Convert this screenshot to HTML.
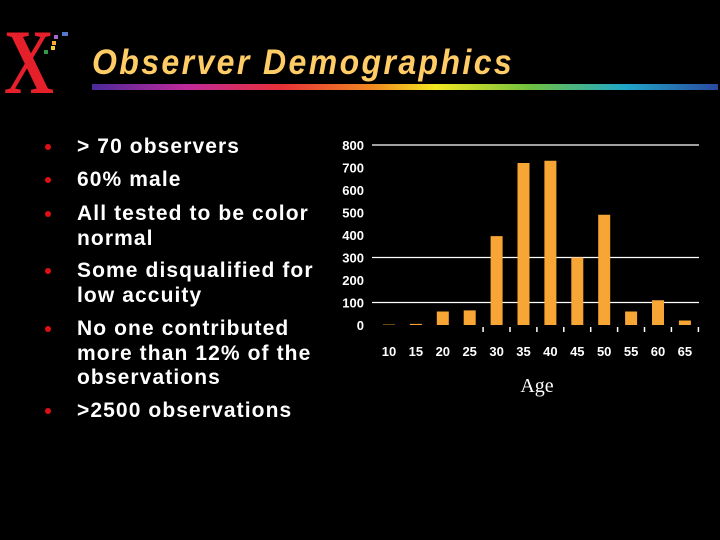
<!DOCTYPE html>
<html><head><meta charset="utf-8"><style>
body{margin:0;background:#000;width:720px;height:540px;overflow:hidden;position:relative;font-family:"Liberation Sans",sans-serif}
.t{position:absolute;color:#fff;font-weight:bold;font-size:21px;letter-spacing:1.1px;left:77px;line-height:24.5px;white-space:nowrap}
.b{position:absolute;left:45px;width:6px;height:6px;border-radius:50%;background:#e01010}
</style></head><body>
<div style="position:absolute;left:4px;top:16px;font-family:'Liberation Serif',serif;font-weight:bold;font-size:92px;line-height:92px;color:#e5202a;transform:scaleX(0.75);transform-origin:0 0">X</div>
<svg style="position:absolute;left:0;top:0" width="80" height="100">
<rect x="62" y="32" width="6" height="4" fill="#5577cc"/><rect x="54" y="35" width="4" height="4" fill="#aa66cc"/>
<rect x="52" y="41" width="4" height="4" fill="#ffaa33"/><rect x="51" y="46" width="4" height="4" fill="#eecc33"/><rect x="44" y="50" width="4" height="4" fill="#339944"/>
</svg>
<div style="position:absolute;left:92px;top:42px;font-size:32px;letter-spacing:2.4px;font-weight:bold;font-style:italic;color:#ffcc66;transform:scaleY(1.1);transform-origin:0 0">Observer Demographics</div>
<div style="position:absolute;left:92px;top:84px;width:626px;height:6px;background:linear-gradient(90deg,#4a2a9a,#c02a9a 15%,#e8303a 30%,#f08a20 45%,#f4e820 55%,#70c040 70%,#20a8c8 85%,#2a4aa0)"></div>
<div>
<div class="b" style="top:144px"></div><div class="t" style="top:135px">&gt; 70 observers</div>
<div class="b" style="top:177px"></div><div class="t" style="top:168px">60% male</div>
<div class="b" style="top:211px"></div><div class="t" style="top:202px">All tested to be color<br>normal</div>
<div class="b" style="top:268px"></div><div class="t" style="top:259px">Some disqualified for<br>low accuity</div>
<div class="b" style="top:326px"></div><div class="t" style="top:317px">No one contributed<br>more than 12% of the<br>observations</div>
<div class="b" style="top:408px"></div><div class="t" style="top:399px">&gt;2500 observations</div>
</div>
<svg id="chart" style="position:absolute;left:0;top:0" width="720" height="540"></svg>
<script>
const categories=["10","15","20","25","30","35","40","45","50","55","60","65"];
const values=[2,5,60,65,395,720,730,300,490,60,110,20];
const yTicks=[0,100,200,300,400,500,600,700,800];
const gridLines=[100,300,800];
const svg=document.getElementById('chart');const NS='http://www.w3.org/2000/svg';
const y=v=>325-v*0.225;const x=i=>389+i*26.9;
function mk(t,a){const e=document.createElementNS(NS,t);for(const k in a)e.setAttribute(k,a[k]);svg.appendChild(e);return e;}
gridLines.forEach(v=>{const l=mk('line',{x1:372,x2:699,y1:y(v),y2:y(v),stroke:'#fff','stroke-width':1.3});

});
yTicks.forEach(v=>{const t=mk('text',{x:364,y:y(v)+5,'text-anchor':'end',fill:'#fff','font-size':13,'font-weight':'bold','font-family':'Liberation Sans'});t.textContent=v;

});
categories.forEach((c,i)=>{
const r=mk('rect',{x:x(i)-6,y:y(values[i]),width:12,height:325-y(values[i]),fill:'#f7a535'});


const t=mk('text',{x:x(i),y:356,'text-anchor':'middle',fill:'#fff','font-size':13,'font-weight':'bold','font-family':'Liberation Sans'});t.textContent=c;


if(i>=4){const k=mk('line',{x1:x(i)-13.5,x2:x(i)-13.5,y1:327,y2:332,stroke:'#fff','stroke-width':1.5});

}
});
const k=mk('line',{x1:x(11)+13.5,x2:x(11)+13.5,y1:327,y2:332,stroke:'#fff','stroke-width':1.5});


const at=mk('text',{x:537,y:392,'text-anchor':'middle',fill:'#fff','font-size':20,'font-family':'Liberation Serif'});at.textContent='Age';


</script>
</body></html>
